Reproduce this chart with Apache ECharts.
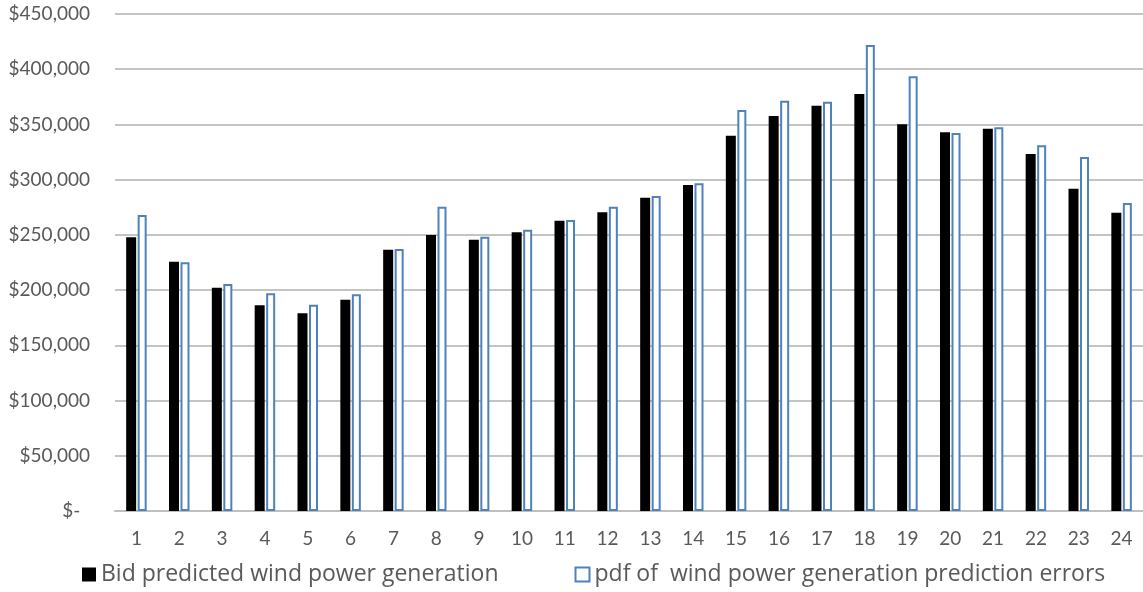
<!DOCTYPE html>
<html>
<head>
<meta charset="utf-8">
<script src="https://cdn.jsdelivr.net/npm/echarts@6/dist/echarts.min.js"></script>
<style>html,body{margin:0;padding:0;background:#fff;}#c{width:1143px;height:592px;}</style>
</head>
<body>
<div id="c"></div>
<script>
var categories = ['1','2','3','4','5','6','7','8','9','10','11','12','13','14','15','16','17','18','19','20','21','22','23','24'];
var bidValues = [247800, 225700, 202200, 186200, 179000, 191300, 236600, 249900, 245600, 252300, 262900, 270400, 283700, 295200, 339800, 357600, 367000, 377600, 350100, 342900, 346200, 323200, 291800, 270100];
var pdfValues = [268000, 225200, 205500, 197100, 186800, 196200, 237200, 275500, 248300, 254700, 263500, 275500, 285200, 296700, 363100, 371500, 370600, 421900, 393600, 342300, 347400, 331100, 320500, 278900];
var seriesNames = ['Bid predicted wind power generation', 'pdf of  wind power generation prediction errors'];

var font = 'Lato, "Open Sans", sans-serif';
var legendFont = '"Open Sans", Lato, sans-serif';
var chart = echarts.init(document.getElementById('c'));
chart.setOption({
  animation: false,
  textStyle: {fontFamily: font},
  grid: {left: 115, right: 0, top: 14, bottom: 81, containLabel: false},
  legend: {
    bottom: 1, left: 77,
    itemWidth: 14, itemHeight: 14, itemGap: 76,
    textStyle: {color: '#595959', fontSize: 23, fontFamily: legendFont},
    data: [
      {name: seriesNames[0], icon: 'rect', itemStyle: {color: '#000', borderWidth: 0}},
      {name: seriesNames[1], icon: 'rect', itemStyle: {color: '#fff', borderColor: '#4F81BD', borderWidth: 2}}
    ]
  },
  xAxis: {
    type: 'category',
    data: categories,
    axisLine: {show: true, lineStyle: {color: '#bfbfbf', width: 2}},
    axisTick: {show: false},
    axisLabel: {color: '#595959', fontSize: 19, margin: 18}
  },
  yAxis: {
    type: 'value',
    min: 0, max: 450000, interval: 50000,
    axisLine: {show: false},
    axisTick: {show: false},
    splitLine: {lineStyle: {color: '#c4c4c4', width: 2}},
    axisLabel: {
      color: '#595959', fontSize: 19, margin: 25,
      formatter: function (v) {
        if (v === 0) return '$-  ';
        return '$' + v.toString().replace(/\B(?=(\d{3})+(?!\d))/g, ',');
      }
    }
  },
  series: [
    {
      name: seriesNames[0], type: 'bar', data: bidValues,
      barWidth: 10, barGap: '15%',
      itemStyle: {color: '#000'}
    },
    {
      name: seriesNames[1], type: 'bar', data: pdfValues,
      barWidth: 9,
      itemStyle: {color: '#fff', borderColor: '#4F81BD', borderWidth: 2}
    }
  ]
});
</script>
</body>
</html>
